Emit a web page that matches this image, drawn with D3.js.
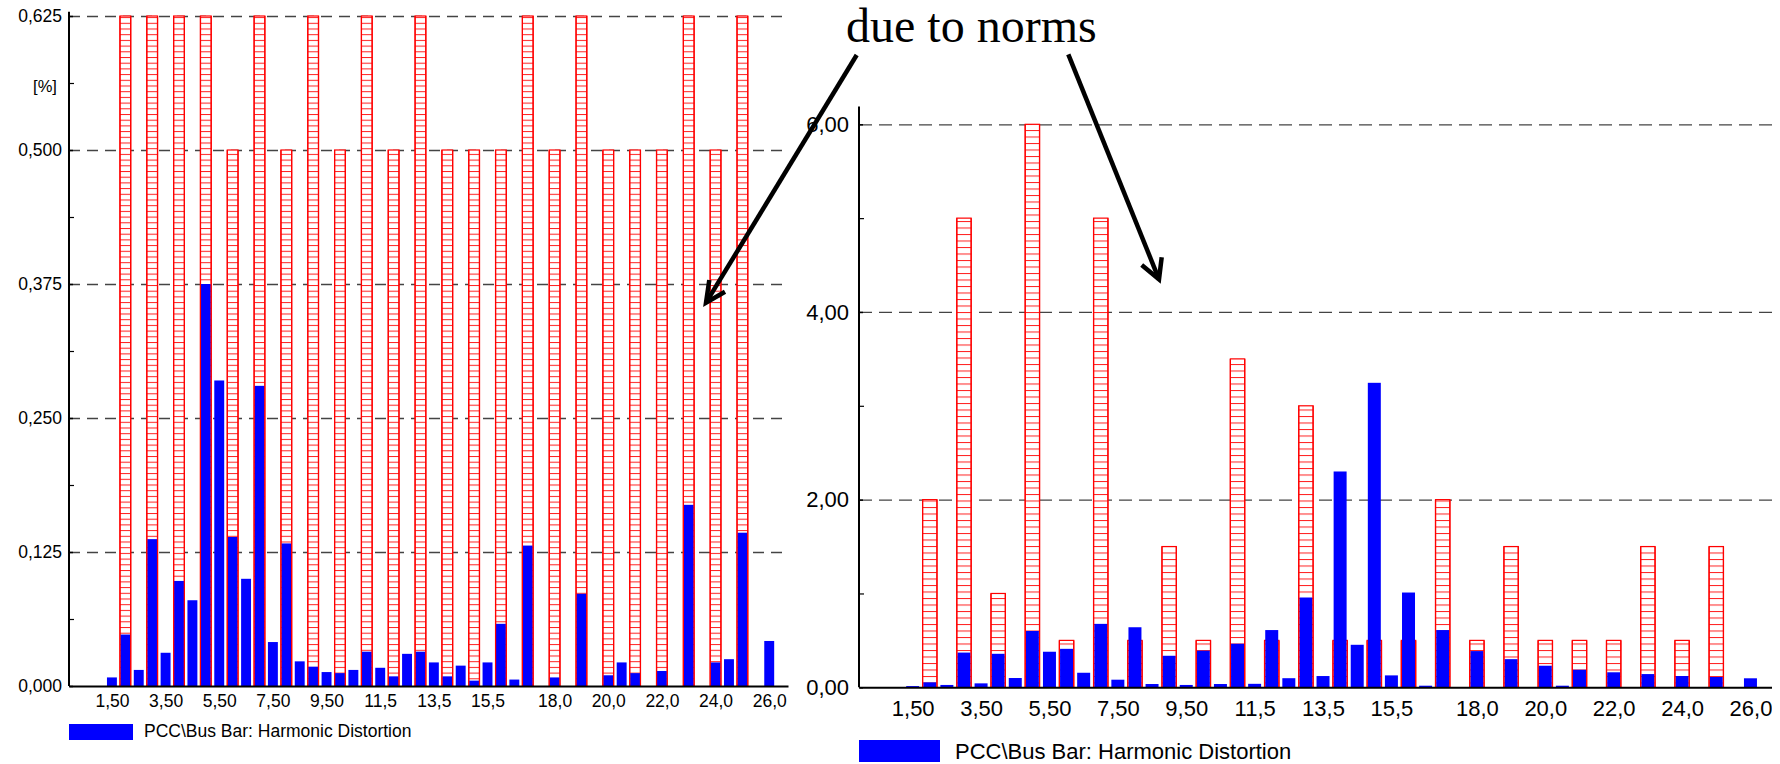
<!DOCTYPE html>
<html>
<head>
<meta charset="utf-8">
<script src="https://cdn.jsdelivr.net/npm/d3@7/dist/d3.min.js"></script>
<style>
body { margin: 0; background: #fff; }
text { font-family: "Liberation Sans", Arial, sans-serif; fill: #000; }
</style>
</head>
<body>
<svg id="chart" width="1780" height="764"></svg>
<script>
// harmonic orders (x) shared by both panels
var harmonics = [1.5, 2, 2.5, 3, 3.5, 4, 4.5, 5, 5.5, 6, 6.5, 7, 7.5, 8, 8.5, 9, 9.5, 10,
    10.5, 11, 11.5, 12, 12.5, 13, 13.5, 14, 14.5, 15, 15.5, 16, 16.5, 17, 17.5, 18, 18.5,
    19, 19.5, 20, 20.5, 21, 21.5, 22, 22.5, 23, 23.5, 24, 24.5, 25, 25.5, 26]

var leftDistortion = [0.008, 0.048, 0.015, 0.137, 0.031, 0.098, 0.080, 0.375, 0.285, 0.139,
    0.100, 0.280, 0.041, 0.133, 0.023, 0.018, 0.013, 0.012, 0.015, 0.032, 0.017, 0.009,
    0.030, 0.032, 0.022, 0.009, 0.019, 0.005, 0.022, 0.058, 0.006, 0.131, 0, 0.008, 0,
    0.086, 0, 0.010, 0.022, 0.012, 0, 0.014, 0, 0.169, 0, 0.022, 0.025, 0.143, 0, 0.042]

var rightDistortion = [0.013, 0.053, 0.025, 0.37, 0.042, 0.357, 0.099, 0.60, 0.379, 0.41,
    0.155, 0.676, 0.081, 0.64, 0.035, 0.336, 0.025, 0.39, 0.035, 0.464, 0.037, 0.61,
    0.097, 0.957, 0.12, 2.30, 0.453, 3.245, 0.127, 1.01, 0.017, 0.61, 0, 0.386, 0,
    0.30, 0, 0.23, 0.017, 0.187, 0, 0.16, 0, 0.141, 0, 0.12, 0, 0.11, 0, 0.096]

// limits due to norms, integer orders only
var limitOrders = [2, 3, 4, 5, 6, 7, 8, 9, 10, 11, 12, 13, 14, 15, 16, 17, 18, 19, 20, 21, 22, 23, 24, 25]
var leftLimits = [0.625, 0.625, 0.625, 0.625, 0.5, 0.625, 0.5, 0.625, 0.5, 0.625, 0.5, 0.625,
    0.5, 0.5, 0.5, 0.625, 0.5, 0.625, 0.5, 0.5, 0.5, 0.625, 0.5, 0.625]
var rightLimits = [2.0, 5.0, 1.0, 6.0, 0.5, 5.0, 0.5, 1.5, 0.5, 3.5, 0.5, 3.0,
    0.5, 0.5, 0.5, 2.0, 0.5, 1.5, 0.5, 0.5, 0.5, 1.5, 0.5, 1.5]

var xTickValues = [1.5, 3.5, 5.5, 7.5, 9.5, 11.5, 13.5, 15.5, 18, 20, 22, 24, 26]
var xTickLabels = ["1,50", "3,50", "5,50", "7,50", "9,50", "11,5", "13,5", "15,5", "18,0", "20,0", "22,0", "24,0", "26,0"]

var leftYTicks = [0, 0.125, 0.25, 0.375, 0.5, 0.625]
var leftYLabels = ["0,000", "0,125", "0,250", "0,375", "0,500", "0,625"]
var leftYMinor = [0.0625, 0.1875, 0.3125, 0.4375, 0.5625]

var rightYTicks = [0, 2, 4, 6]
var rightYLabels = ["0,00", "2,00", "4,00", "6,00"]
var rightYMinor = [1, 3, 5]

var legendLabel = "PCC\\Bus Bar: Harmonic Distortion"

var svg = d3.select("#chart")
svg.append("rect").attr("width", 1780).attr("height", 764).attr("fill", "#fff")
var defs = svg.append("defs")

function drawPanel(p) {
    var xScale = d3.scaleLinear().domain(p.xDomain).range(p.xRange)
    var yScale = d3.scaleLinear().domain(p.yDomain).range(p.yRange)

    var g = svg.append("g")
    if (p.clip) {
        defs.append("clipPath").attr("id", p.id + "-clip")
            .append("rect").attr("x", 0).attr("y", 0).attr("width", p.clip).attr("height", 764)
        g.attr("clip-path", "url(#" + p.id + "-clip)")
    }

    // hatch for the limit bars
    var pat = defs.append("pattern").attr("id", p.id + "-hatch")
        .attr("patternUnits", "userSpaceOnUse")
        .attr("width", 20).attr("height", p.hatch)
    pat.append("rect").attr("width", 20).attr("height", p.hatch).attr("fill", "#fff")
    pat.append("line").attr("x1", 0).attr("x2", 20).attr("y1", 0.5).attr("y2", 0.5)
        .attr("stroke", "#ff2020").attr("stroke-width", 1)

    // dashed grid
    g.append("g")
        .attr("transform", "translate(" + p.xRange[0] + ",0)")
        .call(d3.axisLeft(yScale).tickValues(p.yTicks.slice(1)).tickSize(-(p.xRange[1] - p.xRange[0])).tickFormat(""))
        .call(a => a.select(".domain").remove())
        .selectAll("line")
        .attr("stroke", "#444").attr("stroke-width", 1.3).attr("stroke-dasharray", p.dash)

    var lim = limitOrders.map((h, i) => ({h: h, v: p.limits[i]}))
    var dist = harmonics.map((h, i) => ({h: h, v: p.values[i]})).filter(d => d.v > 0)

    var x0 = d => xScale(d.h - p.redW / 2)
    var x1 = d => xScale(d.h + p.redW / 2)

    // limit bars: hatch + outline, under the measured bars
    g.selectAll(".lim").data(lim).enter().append("rect")
        .attr("x", x0)
        .attr("y", d => yScale(d.v))
        .attr("width", d => x1(d) - x0(d))
        .attr("height", d => yScale(0) - yScale(d.v))
        .attr("fill", "url(#" + p.id + "-hatch)")
        .attr("stroke", "#ff0000").attr("stroke-width", 1.2)

    g.selectAll(".dist").data(dist).enter().append("rect")
        .attr("x", d => xScale(d.h - p.blueW / 2))
        .attr("y", d => yScale(d.v))
        .attr("width", d => xScale(d.h + p.blueW / 2) - xScale(d.h - p.blueW / 2))
        .attr("height", d => yScale(0) - yScale(d.v))
        .attr("fill", "#0000ff")

    // limit bar sides stay visible over the blue
    g.selectAll(".limside").data(lim).enter().append("path")
        .attr("d", d => "M" + x0(d) + "," + yScale(d.v) + "V" + yScale(0) +
            "M" + x1(d) + "," + yScale(d.v) + "V" + yScale(0))
        .attr("stroke", "#ff0000").attr("stroke-width", 1.2).attr("fill", "none")

    // x axis
    var xAxis = g.append("g")
        .attr("transform", "translate(0," + yScale(0) + ")")
        .call(d3.axisBottom(xScale).tickValues(xTickValues).tickSize(0).tickSizeOuter(0)
            .tickPadding(p.xPad).tickFormat((d, i) => xTickLabels[i]))
    xAxis.select(".domain").attr("stroke", "#000").attr("stroke-width", 2)
    xAxis.selectAll("text").style("font-size", p.font + "px").attr("font-family", null)

    // y axis
    var yAxis = g.append("g")
        .attr("transform", "translate(" + p.xRange[0] + ",0)")
        .call(d3.axisLeft(yScale).tickValues(p.yTicks).tickSize(-4).tickSizeOuter(0)
            .tickPadding(p.yPad).tickFormat((d, i) => p.yLabels[i]))
    yAxis.select(".domain").attr("d", "M0," + yScale(0) + "V" + yScale(p.yTop))
        .attr("stroke", "#000").attr("stroke-width", 2)
    yAxis.selectAll("line").attr("stroke", "#000").attr("stroke-width", 1.5)
    yAxis.selectAll("text").style("font-size", p.font + "px").attr("font-family", null)

    g.append("g")
        .attr("transform", "translate(" + p.xRange[0] + ",0)")
        .call(d3.axisLeft(yScale).tickValues(p.yMinor).tickSize(-5).tickFormat(""))
        .call(a => a.select(".domain").remove())
        .selectAll("line").attr("stroke", "#000").attr("stroke-width", 1.2)

    if (p.unit) {
        g.append("text").attr("x", p.unit[0]).attr("y", p.unit[1])
            .attr("text-anchor", "middle").attr("dy", "0.35em")
            .style("font-size", (p.font - 1) + "px").text("[%]")
    }

    // legend
    g.append("rect").attr("x", p.legend[0]).attr("y", p.legend[1])
        .attr("width", p.legend[2]).attr("height", p.legend[3]).attr("fill", "#0000ff")
    g.append("text").attr("x", p.legend[4]).attr("y", p.legend[5])
        .style("font-size", p.legendFont + "px").text(legendLabel)
}

drawPanel({
    id: "left", values: leftDistortion, limits: leftLimits,
    xDomain: [-0.1, 26.7], xRange: [69, 788],
    yDomain: [0, 0.625], yRange: [686, 16], yTop: 0.629,
    yTicks: leftYTicks, yLabels: leftYLabels, yMinor: leftYMinor,
    redW: 0.4, blueW: 0.37, hatch: 5.7, dash: "11,7",
    font: 17.5, xPad: 9, yPad: 7, unit: [45, 86],
    legend: [69, 724, 64, 16, 144, 737], legendFont: 17.5
})

drawPanel({
    id: "right", values: rightDistortion, limits: rightLimits,
    xDomain: [-0.07, 26.63], xRange: [859, 1772],
    yDomain: [0, 6], yRange: [687.3, 124.3], yTop: 6.19,
    yTicks: rightYTicks, yLabels: rightYLabels, yMinor: rightYMinor,
    redW: 0.42, blueW: 0.38, hatch: 6.5, dash: "13,7",
    font: 22, xPad: 13, yPad: 10, clip: 1772,
    legend: [859, 740, 81, 22, 955, 759], legendFont: 22
})

// annotation
var note = svg.append("g")
note.append("text").attr("x", 846).attr("y", 42)
    .style("font-family", "'Liberation Serif', 'Times New Roman', serif")
    .style("font-size", "48px").text("due to norms")

var arrows = [
    {from: [856.7, 55], to: [706, 302.7], head: [[709.3, 280], [725, 291.7]]},
    {from: [1068.3, 54.3], to: [1159, 279.3], head: [[1161.7, 257.3], [1141.7, 265]]}
]
arrows.forEach(function (a) {
    note.append("path")
        .attr("d", d3.line()([a.from, a.to]))
        .attr("stroke", "#000").attr("stroke-width", 4.5).attr("fill", "none")
    note.append("path")
        .attr("d", d3.line()([a.head[0], a.to, a.head[1]]))
        .attr("stroke", "#000").attr("stroke-width", 4.5).attr("fill", "none")
        .attr("stroke-linejoin", "miter")
})
</script>
</body>
</html>
